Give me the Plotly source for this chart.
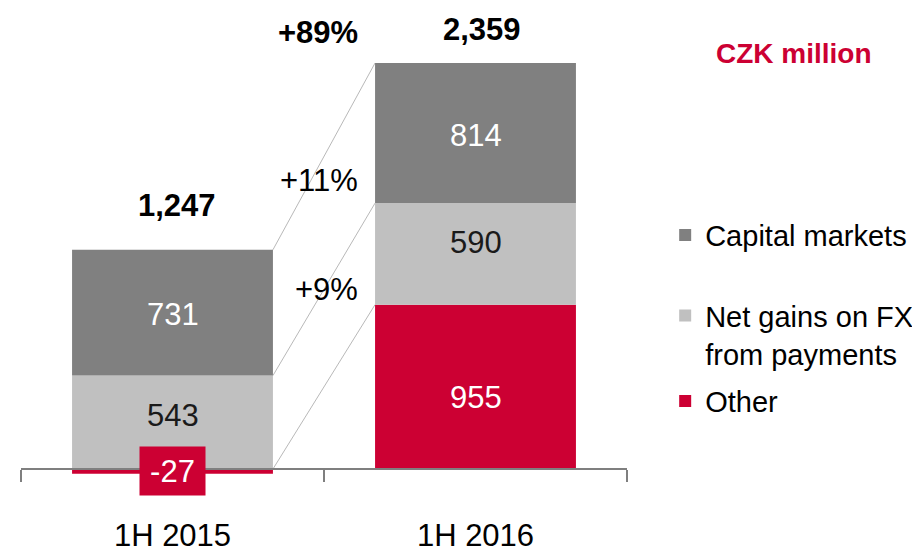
import plotly.graph_objects as go

categories = ["1H 2015", "1H 2016"]
other = [-27, 955]
net_gains_fx = [543, 590]
capital_markets = [731, 814]
series_names = ["Capital markets", "Net gains on FX<br>from payments", "Other"]
unit_label = "CZK million"

DARK = "#808080"
LIGHT = "#C0C0C0"
RED = "#CC0033"
FONT = "Liberation Sans, Arial, sans-serif"
BAR_W = 0.663

totals = [o + n + c for o, n, c in zip(other, net_gains_fx, capital_markets)]

def pct(a, b):
    return "+{:d}%".format(round((b / a - 1) * 100))

fig = go.Figure()
fig.add_trace(go.Bar(x=categories, y=other, name=series_names[2], marker_color=RED, width=BAR_W,
                     legend="legend3", marker_line_width=0))
fig.add_trace(go.Bar(x=categories, y=net_gains_fx, name=series_names[1], marker_color=LIGHT, width=BAR_W,
                     legend="legend2", marker_line_width=0))
fig.add_trace(go.Bar(x=categories, y=capital_markets, name=series_names[0], marker_color=DARK, width=BAR_W,
                     legend="legend", marker_line_width=0))

# segment value labels (positive segments) at segment middles
label_style = [(other, "white", [0, 11]), (net_gains_fx, "#1a1a1a", [-7, -11]), (capital_markets, "white", [2, 2])]
for i in range(len(categories)):
    base = 0
    for series, color, shifts in label_style:
        v = series[i]
        if v > 0:
            fig.add_annotation(x=i, y=base + v / 2, text=str(v), showarrow=False,
                               xanchor="center", yanchor="middle", yshift=-shifts[i],
                               font=dict(size=31, color=color, family=FONT))
            base += v

# connector lines between segment boundaries
def pos_stack(i):
    base = 0
    tops = []
    for s in (other, net_gains_fx, capital_markets):
        v = s[i]
        if v > 0:
            base += v
        tops.append(base)
    return tops

t0, t1 = pos_stack(0), pos_stack(1)
for a, b in zip(t0, t1):
    fig.add_shape(type="line", xref="x", yref="y", x0=BAR_W / 2, x1=1 - BAR_W / 2,
                  y0=a, y1=b, line=dict(color="#A6A6A6", width=0.8), layer="below")

# totals
fig.add_annotation(x=0, y=t0[-1], text="<b>{:,}</b>".format(totals[0]), showarrow=False,
                   xanchor="center", yanchor="middle", yshift=44, xshift=4,
                   font=dict(size=31, color="black", family=FONT))
fig.add_annotation(x=1, y=t1[-1], text="<b>{:,}</b>".format(totals[1]), showarrow=False,
                   xanchor="center", yanchor="middle", yshift=34, xshift=6,
                   font=dict(size=31, color="black", family=FONT))

# growth labels
fig.add_annotation(x=0.62, y=2539, text="<b>" + pct(totals[0], totals[1]) + "</b>", showarrow=False,
                   xanchor="right", yanchor="middle", font=dict(size=31, color="black", family=FONT))
fig.add_annotation(x=0.62, y=1679, text=pct(capital_markets[0], capital_markets[1]), showarrow=False,
                   xanchor="right", yanchor="middle", font=dict(size=31, color="black", family=FONT))
fig.add_annotation(x=0.62, y=1046, text=pct(net_gains_fx[0], net_gains_fx[1]), showarrow=False,
                   xanchor="right", yanchor="middle", font=dict(size=31, color="black", family=FONT))

# negative value label box
fig.add_annotation(x=0, y=-12, text=str(other[0]), showarrow=False, bgcolor=RED,
                   width=53, height=36, borderpad=6, xanchor="center", yanchor="middle",
                   font=dict(size=31, color="white", family=FONT))

# unit label
fig.add_annotation(xref="paper", yref="paper", x=1.2756, y=0.931, text="<b>" + unit_label + "</b>",
                   showarrow=False, xanchor="center", yanchor="middle",
                   font=dict(size=28, color=RED, family=FONT))

legend_common = dict(font=dict(size=29, color="black", family=FONT), bgcolor="rgba(0,0,0,0)",
                     x=1.063, xanchor="left")

fig.update_layout(
    width=912, height=539,
    margin=dict(l=13, r=293, t=12, b=47, autoexpand=False),
    barmode="relative",
    plot_bgcolor="white", paper_bgcolor="white",
    font=dict(family=FONT, color="black"),
    showlegend=True,
    legend=dict(**legend_common, y=0.552, yanchor="middle"),
    legend2=dict(**legend_common, y=0.437, yanchor="top", valign="top"),
    legend3=dict(**legend_common, y=0.206, yanchor="middle"),
    xaxis=dict(type="category", range=[-0.5, 1.5], anchor="free", position=31 / 480,
               showline=True, linecolor="#7F7F7F", linewidth=1.5,
               ticks="outside", tickson="boundaries", ticklen=12, tickcolor="#7F7F7F", tickwidth=1.5,
               tickfont=dict(size=31, color="black", family=FONT), ticklabelstandoff=39,
               showgrid=False, zeroline=False, automargin=False),
    yaxis=dict(range=[-180, 2609], visible=False, showgrid=False, zeroline=False),
)

fig.write_html("out.html")
